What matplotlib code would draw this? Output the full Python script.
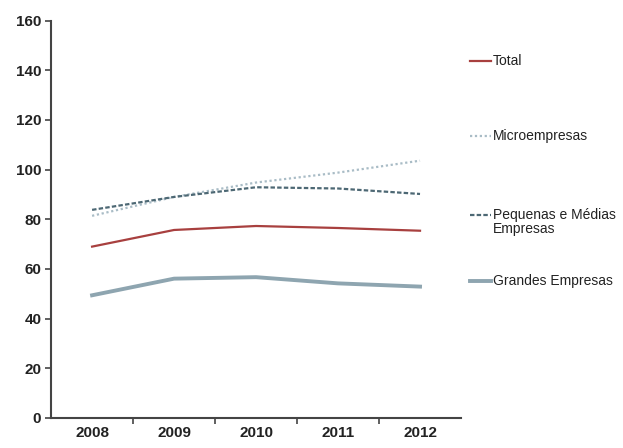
import matplotlib
matplotlib.use("Agg")
import matplotlib.pyplot as plt
from matplotlib.lines import Line2D

# ── Data ──────────────────────────────────────────────────────────────────────
years = ["2008", "2009", "2010", "2011", "2012"]
total = [69.0, 75.7, 77.3, 76.5, 75.4]
micro = [81.4, 89.0, 94.8, 98.8, 103.6]
pme = [83.8, 89.0, 92.9, 92.4, 90.2]
grandes = [49.4, 56.1, 56.7, 54.2, 52.9]

labels = ["Total", "Microempresas", "Pequenas e Médias\nEmpresas", "Grandes Empresas"]
y_ticks = [0, 20, 40, 60, 80, 100, 120, 140, 160]

plt.rcParams["font.family"] = ["Liberation Sans", "DejaVu Sans"]

series = [
    (total, dict(color="#a8403f", lw=1.6, ls="-")),
    (micro, dict(color="#a9bcc6", lw=1.6, ls=(0, (1, 1.2)))),
    (pme, dict(color="#4d6874", lw=1.6, ls=(0, (2, 1)))),
    (grandes, dict(color="#8ea5b0", lw=2.8, ls="-")),
]

fig = plt.figure(figsize=(6.23, 4.48), dpi=100)
ax = fig.add_axes([0.082, 0.067, 0.658, 0.887])

x = range(len(years))
for vals, st in series:
    ax.plot(x, vals, **st)

ax.set_xlim(-0.5, len(years) - 0.5)
ax.set_ylim(0, 160)
ax.set_yticks(y_ticks)
ax.set_yticklabels([str(v) for v in y_ticks], fontsize=11, fontweight="bold", color="#222222")
ax.set_xticks(list(x))
ax.set_xticklabels(years, fontsize=11, fontweight="bold", color="#222222")
ax.tick_params(axis="x", length=0, pad=6)
ax.set_xticks([i + 0.5 for i in range(len(years) - 1)], minor=True)
ax.tick_params(axis="x", which="minor", length=4, width=1.2, color="#444444", direction="out")
ax.tick_params(axis="y", length=4, width=1.2, color="#444444", direction="out", pad=3)

for side in ("top", "right"):
    ax.spines[side].set_visible(False)
for side in ("left", "bottom"):
    ax.spines[side].set_linewidth(1.5)
    ax.spines[side].set_color("#444444")

# ── Legend (manual, right side) ──────────────────────────────────────────────
leg_y = [61, 136, 215, 281]  # pixel rows from top
W, H = 623, 448
for (vals, st), lab, py in zip(series, labels, leg_y):
    fy = 1 - py / H
    fig.add_artist(Line2D([470 / W, 491 / W], [fy, fy], transform=fig.transFigure, **st))
    multi = "\n" in lab
    ty = fy + 7 / H if multi else fy
    fig.text(493 / W, ty, lab, fontsize=10, va="top" if multi else "center",
             ha="left", color="#222222", linespacing=1.0)

fig.savefig("out.png", dpi=100)
